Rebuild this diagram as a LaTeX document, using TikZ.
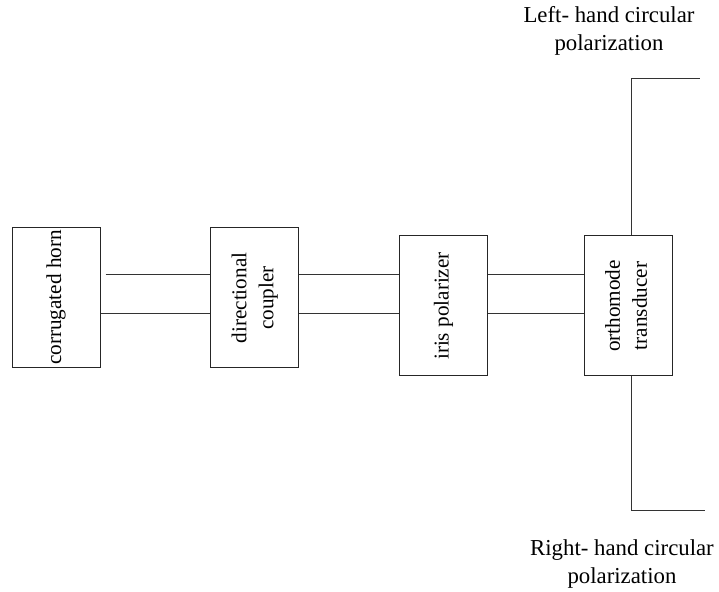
\documentclass[tikz,border=0pt]{standalone}
\usepackage{fontspec}
\setmainfont{Liberation Serif}
\usepackage{graphicx}
\usetikzlibrary{positioning}

\begin{document}
\begin{tikzpicture}[
    x=0.5pt, y=-0.5pt,
    font=\fontsize{10.6}{13.5}\selectfont,
    block/.style={draw=black!85, line width=0.5pt, inner sep=0pt,
                  minimum width=44pt, minimum height=70pt},
    guide/.style={draw=black!80, line width=0.5pt},
    label/.style={align=center, inner sep=0pt,
                  font=\fontsize{11.4}{14}\selectfont}
]
    \useasboundingbox (0,0) rectangle (719,592);

    \node[block] (horn) at (56,297.5)
        {\rotatebox{90}{corrugated horn}};
    \node[block] (coupler) at (254.5,298)
        {\rotatebox{90}{\begin{tabular}{@{}c@{}}directional\\coupler\end{tabular}}};
    \node[block] (iris) at (443.5,306)
        {\rotatebox{90}{iris polarizer}};
    \node[block] (omt) at (628,306)
        {\rotatebox{90}{\begin{tabular}{@{}c@{}}orthomode\\transducer\end{tabular}}};

    \coordinate (lhcp) at (700,79);
    \coordinate (rhcp) at (705,511);

    \node[label] (lhtext) at (609,31) {Left- hand circular\\polarization};
    \node[label] (rhtext) at (622,564) {Right- hand circular\\polarization};

    \draw[guide] (horn.east |- 0,275) ++(5,0) -- (coupler.west |- 0,275);
    \draw[guide] (horn.east |- 0,314) -- (coupler.west |- 0,314);
    \draw[guide] (coupler.east |- 0,275) -- (iris.west |- 0,275);
    \draw[guide] (coupler.east |- 0,314) -- (iris.west |- 0,314);
    \draw[guide] (iris.east |- 0,275) -- (omt.west |- 0,275);
    \draw[guide] (iris.east |- 0,314) -- (omt.west |- 0,314);

    \draw[guide] ([xshift=1.5pt]omt.north) |- (lhcp);
    \draw[guide] ([xshift=1.5pt]omt.south) |- (rhcp);
\end{tikzpicture}
\end{document}
